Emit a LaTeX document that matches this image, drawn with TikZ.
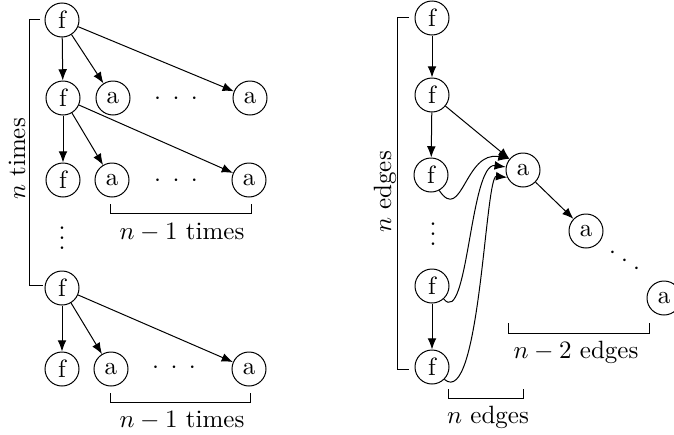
\documentclass[tikz,border=0pt]{standalone}
\usetikzlibrary{arrows.meta}
\newcommand{\dotrow}[1]{$\cdot$\hspace{#1}$\cdot$\hspace{#1}$\cdot$}
\begin{document}
\begin{tikzpicture}[x=0.4pt, y=-0.4pt,
	vert/.style={circle, draw, minimum size=13.6pt, inner sep=0pt},
	edge/.style={-{Latex[length=4.5pt, width=3.5pt]}}]
	\useasboundingbox (0, 0) rectangle (674, 434);

	% left: f chain, each f with its row of a
	\node[vert] (f1) at (62, 20) {f};
	\node[vert] (f2) at (63, 98) {f};
	\node[vert] (a21) at (113, 98) {a};
	\node[vert] (a22) at (250, 98) {a};
	\node[vert] (f3) at (63, 180) {f};
	\node[vert] (a31) at (112, 180) {a};
	\node[vert] (a32) at (249, 180) {a};
	\node[vert] (f4) at (62, 288) {f};
	\node[vert] (f5) at (62, 369) {f};
	\node[vert] (a51) at (111, 369) {a};
	\node[vert] (a52) at (249, 369) {a};

	\node (dots2) at (176, 99) {\dotrow{4.6pt}};
	\node (dots3) at (176, 181) {\dotrow{4.6pt}};
	\node (dots5) at (174, 368) {\dotrow{4.6pt}};
	\node[inner sep=0pt] (vdots1) at (62, 231) {$\vdots$};

	\draw[edge] (f1) -- (f2);
	\draw[edge] (f1) -- (a21);
	\draw[edge] (f1) -- (a22);
	\draw[edge] (f2) -- (f3);
	\draw[edge] (f2) -- (a31);
	\draw[edge] (f2) -- (a32);
	\draw[edge] (f4) -- (f5);
	\draw[edge] (f4) -- (a51);
	\draw[edge] (f4) -- (a52);

	\draw (40, 19) -- (29, 19) -- (29, 285) -- (43, 285);
	\draw (110, 204) -- (110, 213) -- (251, 213) -- (251, 204);
	\draw (110, 393) -- (110, 402) -- (250, 402) -- (250, 393);

	\node[rotate=90] (ntimes) at (17, 159) {$n$ times};
	\node (mtimes1) at (182, 232) {$n-1$ times};
	\node (mtimes2) at (182, 420) {$n-1$ times};

	% right: f chain, all edges into the a path
	\node[vert] (g1) at (432, 18) {f};
	\node[vert] (g2) at (432, 95) {f};
	\node[vert] (g3) at (431, 175) {f};
	\node[vert] (g4) at (432, 286) {f};
	\node[vert] (g5) at (432, 367) {f};
	\node[vert] (b1) at (523, 170) {a};
	\node[vert] (b2) at (586, 231) {a};
	\node[vert] (b3) at (664, 298) {a};

	\node[inner sep=0pt] (vdots2) at (433, 227) {$\vdots$};
	\node[rotate=-35] (ddots) at (625, 261) {\dotrow{3.1pt}};

	\draw[edge] (g1) -- (g2);
	\draw[edge] (g2) -- (g3);
	\draw[edge] (g4) -- (g5);
	\draw[edge] (g2) -- (b1);
	\draw[edge] (b1) -- (b2);
	\draw[edge] (g3.-62) .. controls (462, 224) and (465, 150) .. (b1.140);
	\draw[edge] (g4.-48) .. controls (468, 328) and (470, 162) .. (b1.170);
	\draw[edge] (g5.-45) .. controls (480, 410) and (485, 175) .. (b1.205);

	\draw (409, 17) -- (397, 17) -- (397, 369) -- (409, 369);
	\draw (448, 389) -- (448, 398) -- (523, 398) -- (523, 389);
	\draw (508, 323) -- (508, 333) -- (649, 333) -- (649, 323);

	\node[rotate=90] (nedges1) at (385, 192) {$n$ edges};
	\node (nedges2) at (488, 417) {$n$ edges};
	\node (medges) at (576, 352) {$n-2$ edges};

\end{tikzpicture}
\end{document}
